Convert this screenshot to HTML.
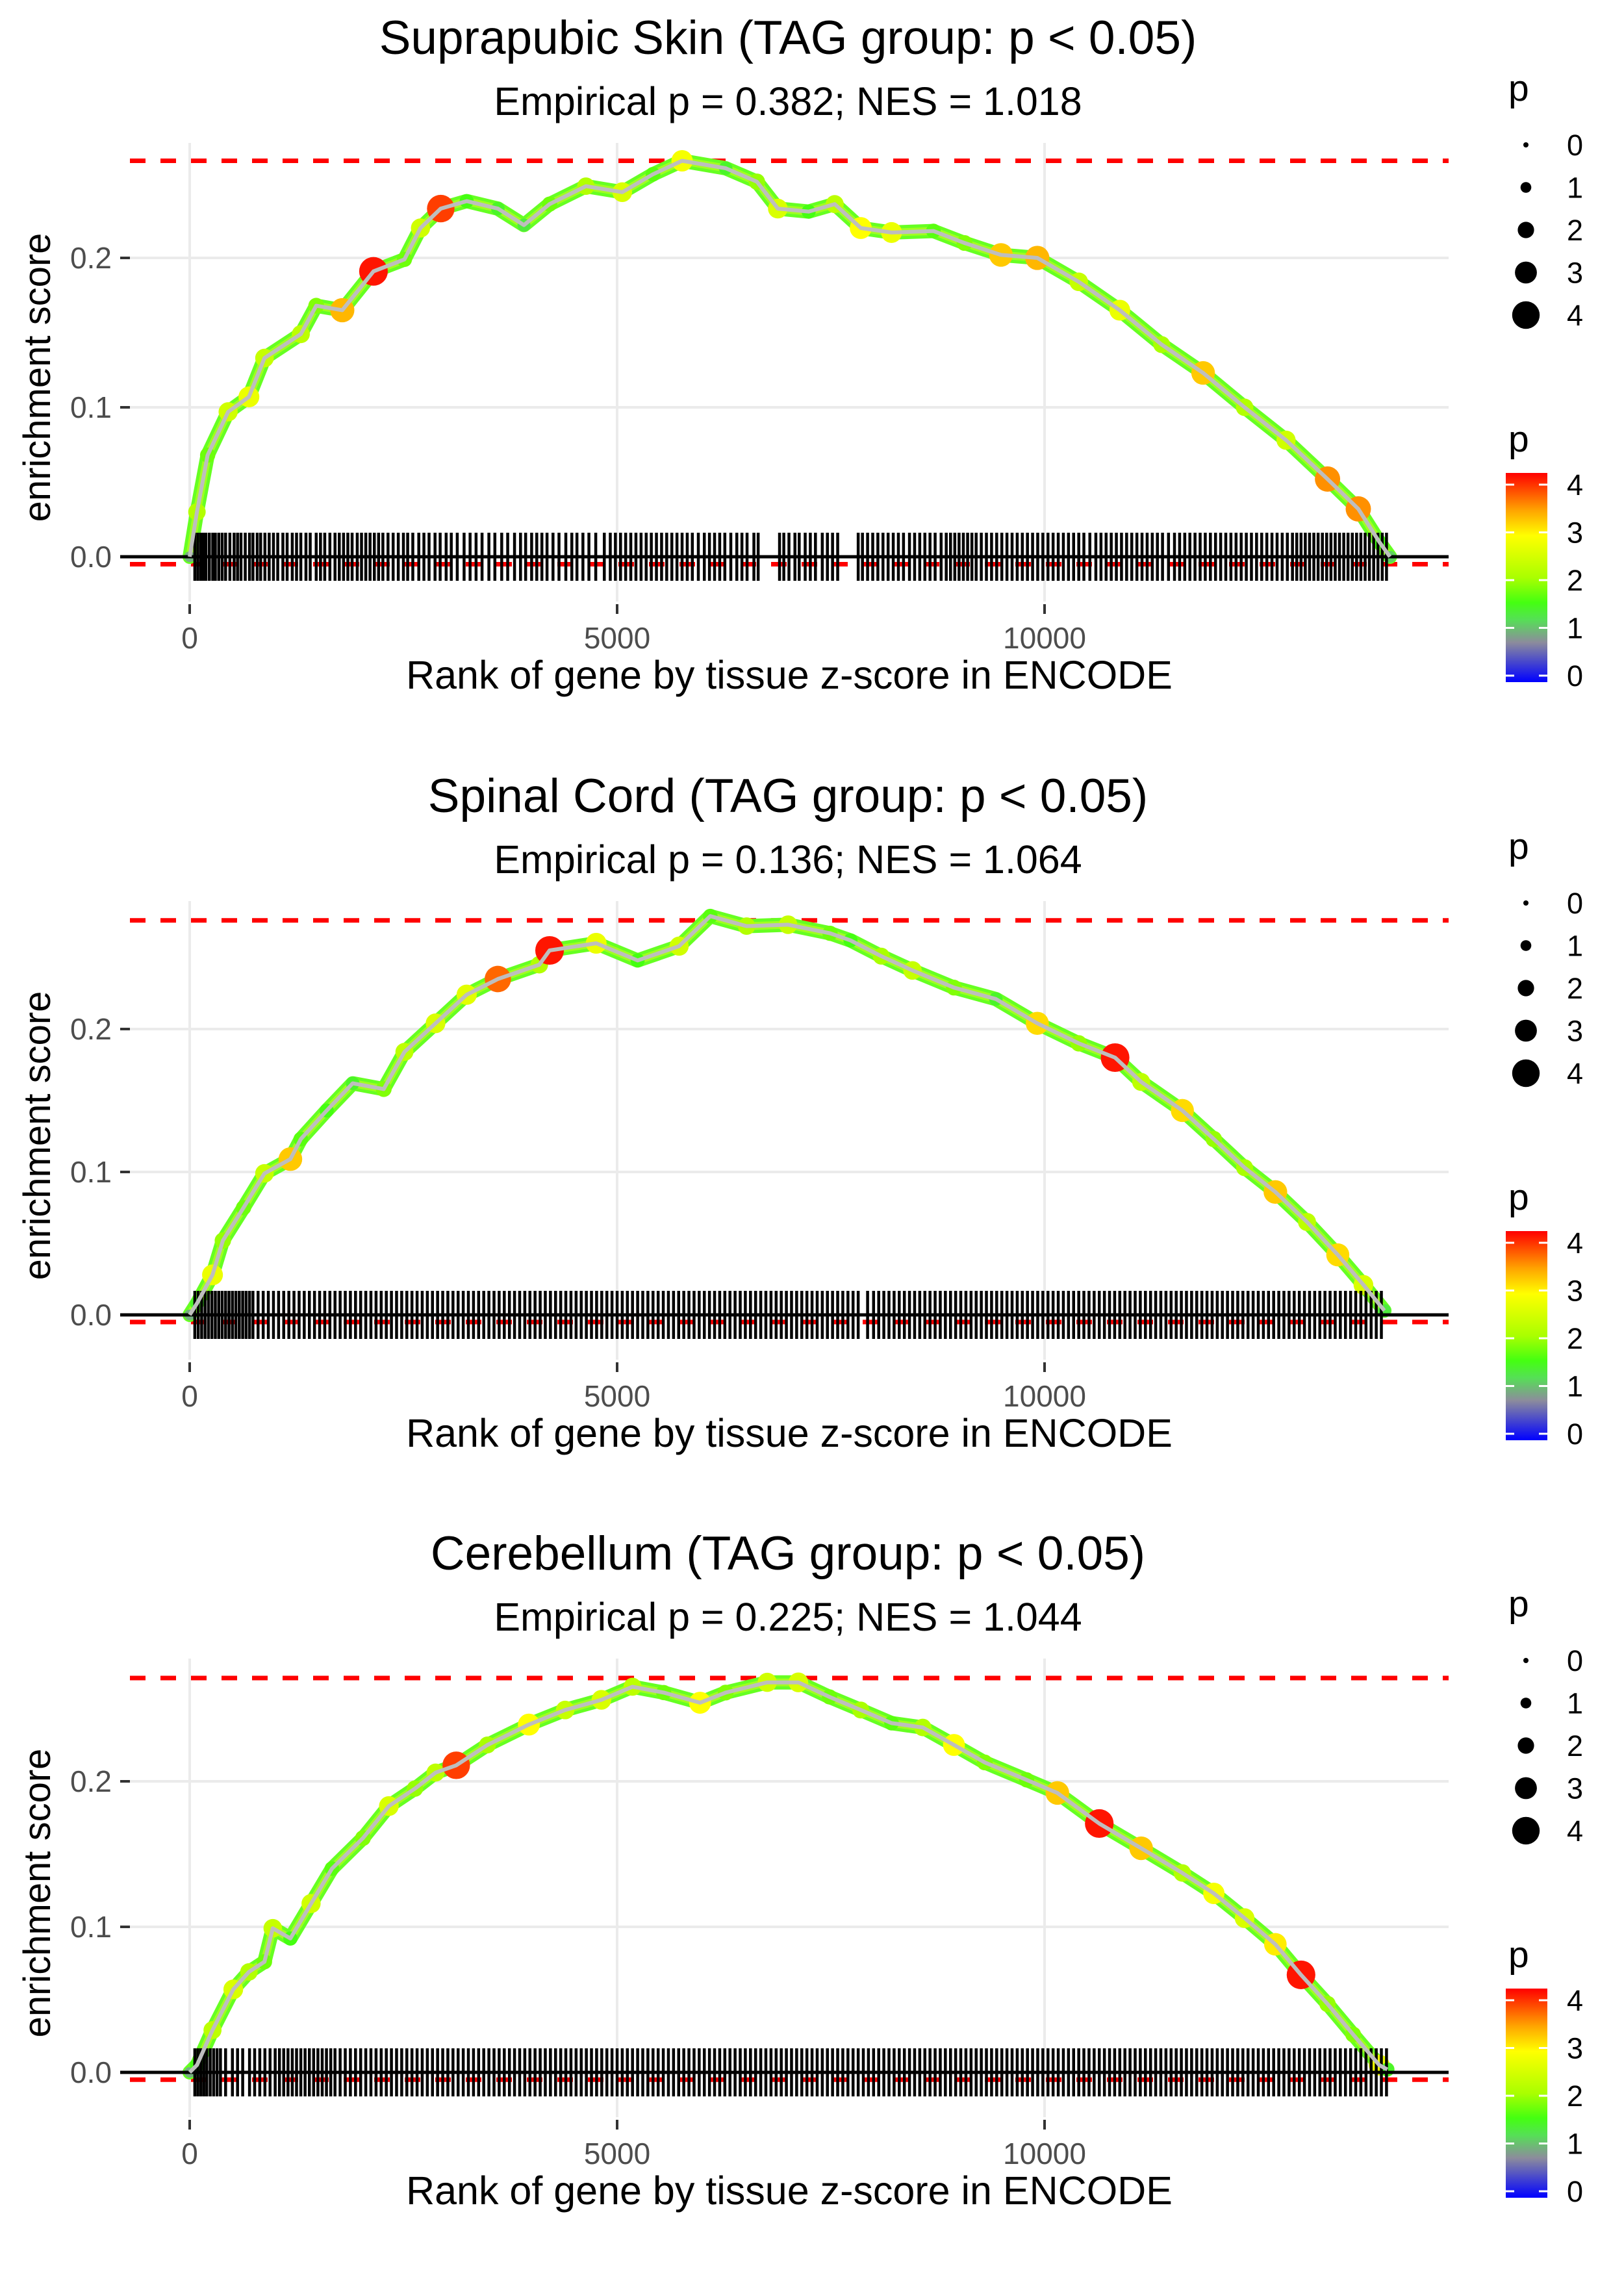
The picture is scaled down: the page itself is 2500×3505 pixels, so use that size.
<!DOCTYPE html>
<html><head><meta charset="utf-8"><style>
html,body{margin:0;padding:0;background:#fff;}
svg text{font-family:"Liberation Sans",Arial,sans-serif;}
</style></head><body>
<svg id="chart" xmlns="http://www.w3.org/2000/svg" width="2500" height="3500" viewBox="0 0 2500 3500">
<defs>
<linearGradient id="cbar" x1="0" y1="1" x2="0" y2="0">
<stop offset="0" stop-color="#0000ff"/><stop offset="0.19" stop-color="#8c8c9c"/><stop offset="0.3" stop-color="#55e055"/><stop offset="0.38" stop-color="#44ff11"/><stop offset="0.5" stop-color="#aaff00"/><stop offset="0.7" stop-color="#ffff00"/><stop offset="0.82" stop-color="#ffa500"/><stop offset="1" stop-color="#ff0000"/>
</linearGradient>
</defs>
</svg>
<script>
// ---- data ----
const titles = ["Suprapubic Skin (TAG group: p < 0.05)","Spinal Cord (TAG group: p < 0.05)","Cerebellum (TAG group: p < 0.05)"];
const subtitles = ["Empirical p = 0.382; NES = 1.018","Empirical p = 0.136; NES = 1.064","Empirical p = 0.225; NES = 1.044"];
const xTicks = [0,5000,10000];
const xTickLabels = ["0","5000","10000"];
const yTicks = [0,0.1,0.2];
const yTickLabels = ["0.0","0.1","0.2"];
const sizeLegendValues = [0,1,2,3,4];
const colorLegendValues = [0,1,2,3,4];
const esMax = [0.265,0.276,0.271];
const esMin = [-0.005,-0.005,-0.005];

const ranks1 = [0,85,210,450,693,875,1300,1480,1785,2150,2512,2700,2937,3240,3605,3910,4210,4635,5060,5420,5760,6270,6635,6880,7240,7545,7850,8210,8700,9063,9490,9915,10400,10880,11370,11855,12340,12825,13310,13670,13915,14040];
const es1    = [0,0.03,0.068,0.097,0.107,0.133,0.149,0.168,0.165,0.191,0.199,0.22,0.233,0.238,0.233,0.222,0.236,0.248,0.244,0.256,0.265,0.26,0.251,0.233,0.231,0.236,0.22,0.217,0.218,0.21,0.202,0.2,0.184,0.165,0.142,0.123,0.1,0.078,0.052,0.032,0.01,0];
const p1     = [1,2.2,1.8,2.5,2.8,2.4,2.3,1.9,3.4,4.2,1.8,2.5,4.0,1.6,1.5,1.4,1.8,2.2,2.6,1.7,2.9,1.5,2.0,2.6,1.6,2.3,3.0,2.8,1.7,1.9,3.3,3.4,2.4,2.8,2.1,3.3,2.2,2.5,3.6,3.6,1.6,1.2];

const ranks2 = [0,85,267,388,630,875,1178,1300,1603,1907,2270,2512,2876,3240,3605,4090,4210,4755,5240,5725,6090,6515,7000,7490,7730,8090,8455,8940,9430,9915,10400,10825,11130,11612,11980,12340,12700,13070,13430,13730,13975];
const es2    = [0,0.008,0.028,0.052,0.075,0.099,0.109,0.123,0.143,0.162,0.158,0.184,0.204,0.224,0.235,0.245,0.255,0.26,0.248,0.258,0.279,0.272,0.273,0.267,0.262,0.251,0.241,0.229,0.221,0.204,0.19,0.18,0.163,0.143,0.123,0.103,0.086,0.065,0.042,0.021,0.003];
const p2     = [1,1.5,2.8,2.0,1.8,2.4,3.3,1.7,1.6,1.5,1.9,2.3,2.6,2.7,3.8,2.2,4.2,2.8,1.6,2.5,1.7,2.2,2.4,1.8,1.6,2.1,2.4,1.9,1.5,3.2,2.0,4.2,2.3,3.2,2.0,2.1,3.3,2.3,3.2,2.6,1.4];

const ranks3 = [0,85,267,510,693,875,972,1178,1420,1664,2027,2330,2635,2876,3118,3483,3968,4392,4816,5180,5545,5970,6270,6756,7120,7485,7850,8210,8575,8940,9300,9790,10150,10640,11130,11612,11980,12340,12700,13000,13310,13610,13915,14010];
const es3    = [0,0.005,0.029,0.057,0.069,0.076,0.099,0.092,0.116,0.14,0.161,0.183,0.195,0.206,0.211,0.225,0.239,0.249,0.256,0.265,0.261,0.254,0.261,0.268,0.268,0.258,0.249,0.24,0.237,0.225,0.213,0.201,0.192,0.171,0.154,0.137,0.123,0.106,0.088,0.067,0.047,0.026,0.005,0.002];
const p3     = [1,1.6,2.3,2.6,2.2,1.8,2.4,1.6,2.5,1.7,1.9,2.6,2.0,2.3,4.0,2.1,3.0,2.4,2.6,2.3,1.8,3.0,1.9,2.5,2.6,1.8,2.1,1.7,2.2,3.0,1.9,1.8,3.3,4.2,3.3,2.2,2.9,2.6,3.1,4.2,2.0,1.9,2.8,1.5];

const rug1 = [60,95,130,160,190,230,270,300,340,380,420,470,520,560,600,650,700,740,790,830,880,930,980,1030,1090,1140,1200,1250,1300,1360,1410,1480,1530,1580,1640,1700,1750,1800,1850,1900,1960,2010,2060,2110,2160,2210,2260,2320,2380,2440,2500,2550,2610,2680,2740,2800,2870,2930,3000,3060,3130,3210,3280,3350,3420,3500,3570,3650,3720,3800,3870,3930,4000,4060,4120,4180,4250,4320,4400,4470,4530,4600,4670,4750,4850,4920,4980,5040,5100,5160,5220,5280,5340,5400,5460,5520,5580,5640,5700,5760,5820,5880,5950,6020,6080,6140,6200,6260,6330,6400,6460,6520,6600,6650,6900,6950,7010,7080,7130,7200,7260,7320,7400,7460,7520,7580,7820,7870,7930,7990,8050,8110,8170,8230,8290,8350,8420,8480,8540,8600,8660,8720,8790,8850,8900,8950,9000,9050,9100,9150,9200,9260,9320,9380,9440,9500,9560,9620,9680,9740,9800,9860,9920,9980,10040,10100,10160,10220,10280,10340,10400,10460,10530,10600,10660,10720,10780,10840,10900,10960,11020,11080,11140,11200,11260,11320,11380,11450,11520,11580,11640,11700,11760,11820,11880,11940,12000,12060,12120,12180,12240,12300,12360,12420,12480,12540,12600,12660,12720,12780,12840,12900,12950,13000,13050,13100,13150,13200,13250,13300,13350,13400,13450,13500,13550,13600,13650,13700,13750,13800,13850,13900,13950,14000];
const rug2 = [60,100,140,180,220,260,300,340,380,420,460,500,540,580,620,660,700,740,800,860,920,980,1040,1100,1160,1220,1280,1340,1400,1460,1520,1580,1640,1700,1760,1820,1880,1940,2000,2060,2120,2180,2240,2300,2360,2420,2480,2540,2600,2660,2720,2780,2840,2900,2960,3020,3080,3140,3200,3260,3320,3380,3440,3500,3560,3620,3680,3740,3800,3860,3920,3980,4040,4100,4160,4220,4280,4340,4400,4460,4520,4580,4640,4700,4760,4820,4880,4940,5000,5060,5120,5180,5240,5300,5360,5420,5480,5540,5600,5660,5720,5780,5840,5900,5960,6020,6080,6140,6200,6260,6320,6380,6440,6500,6560,6620,6680,6740,6800,6860,6920,6980,7040,7100,7160,7220,7280,7340,7400,7460,7520,7580,7640,7700,7760,7820,7930,8000,8060,8120,8180,8240,8300,8360,8420,8480,8540,8600,8660,8720,8780,8840,8900,8960,9020,9080,9140,9200,9260,9320,9380,9440,9500,9560,9620,9680,9740,9800,9860,9920,9980,10040,10100,10160,10220,10280,10340,10400,10460,10520,10580,10640,10700,10760,10820,10880,10940,11000,11060,11120,11180,11240,11300,11360,11420,11480,11540,11600,11660,11720,11780,11840,11900,11960,12020,12080,12140,12200,12260,12320,12380,12440,12500,12560,12620,12680,12740,12800,12860,12920,12980,13040,13100,13160,13220,13280,13340,13400,13460,13520,13580,13640,13700,13760,13820,13880,13940];
const rug3 = [60,95,130,165,200,240,280,320,360,420,500,560,620,700,760,820,880,940,1000,1050,1100,1150,1200,1250,1300,1350,1400,1450,1500,1550,1600,1650,1700,1760,1820,1880,1940,2000,2060,2120,2180,2240,2300,2360,2420,2480,2540,2600,2660,2720,2780,2840,2900,2960,3020,3080,3140,3200,3260,3320,3380,3440,3500,3560,3620,3680,3740,3800,3860,3920,3980,4040,4100,4160,4220,4280,4340,4400,4460,4520,4580,4640,4700,4760,4820,4880,4940,5000,5060,5120,5180,5240,5300,5360,5420,5480,5540,5600,5660,5720,5780,5840,5900,5960,6020,6080,6140,6200,6260,6320,6380,6440,6500,6560,6620,6680,6740,6800,6860,6920,6980,7040,7100,7160,7220,7280,7340,7400,7460,7520,7580,7640,7700,7760,7820,7880,7940,8000,8060,8120,8180,8240,8300,8360,8420,8480,8540,8600,8660,8720,8780,8840,8900,8960,9020,9080,9140,9200,9260,9320,9380,9440,9500,9560,9620,9680,9740,9800,9860,9920,9980,10040,10100,10160,10220,10280,10340,10400,10460,10520,10580,10640,10700,10760,10820,10880,10940,11000,11060,11120,11180,11240,11300,11360,11420,11480,11540,11600,11660,11720,11780,11840,11900,11960,12020,12080,12140,12200,12260,12320,12380,12440,12500,12560,12620,12680,12740,12800,12860,12920,12980,13040,13100,13160,13220,13280,13340,13400,13460,13520,13580,13640,13700,13760,13820,13880,13940,14000];

const panelRanks = [ranks1,ranks2,ranks3];
const panelES = [es1,es2,es3];
const panelP = [p1,p2,p3];
const panelRug = [rug1,rug2,rug3];

// ---- layout ----
const NS = "http://www.w3.org/2000/svg";
const svg = document.getElementById('chart');
const panelOffset = [0,1167,2333];
const zeroY = 857;
const pxPerUnitY = [2300,2200,2240];
const X0 = 292, PX_PER_RANK = 0.1316;
const plotL = 187, plotR = 2230, plotT = 220, plotB = 926;

function xScale(r){return X0 + r*PX_PER_RANK;}
function mk(tag, attrs, parent){const e=document.createElementNS(NS,tag);for(const k in attrs)e.setAttribute(k,attrs[k]);(parent||svg).appendChild(e);return e;}
const cstops=[[0,[0,0,255]],[0.8,[140,140,156]],[1.3,[85,224,85]],[1.6,[68,255,17]],[2.1,[170,255,0]],[3,[255,255,0]],[3.5,[255,165,0]],[4.3,[255,0,0]]];
function pColor(p){
  for(let i=1;i<cstops.length;i++){ if(p<=cstops[i][0]){const a=cstops[i-1],b=cstops[i];const t=(p-a[0])/(b[0]-a[0]);const c=a[1].map((v,j)=>Math.round(v+(b[1][j]-v)*t));return `rgb(${c[0]},${c[1]},${c[2]})`;} }
  return 'rgb(255,0,0)';
}
function pRadius(p){return 4+4.3*p;}

for(let k=0;k<3;k++){
  const off = panelOffset[k];
  const yS = v => off + zeroY - v*pxPerUnitY[k];
  const g = mk('g',{});
  
  

  const t = mk('text',{x:1213,y:off+83,'font-size':73,'text-anchor':'middle',fill:'#000'},g);
  t.textContent = titles[k];
  
  
  const st = mk('text',{x:1213,y:off+177,'font-size':61,'text-anchor':'middle',fill:'#000'},g);
  st.textContent = subtitles[k];
  
  

  yTicks.forEach((v,i)=>{
    const l = mk('line',{x1:plotL,x2:plotR,y1:yS(v),y2:yS(v),stroke:'#ebebeb','stroke-width':4},g);
    
    
    const tk = mk('line',{x1:185,x2:200,y1:yS(v),y2:yS(v),stroke:'#333','stroke-width':4},g);
    
    
    const tl = mk('text',{x:172,y:yS(v)+16,'font-size':46,'text-anchor':'end',fill:'#4d4d4d'},g);
    tl.textContent = yTickLabels[i];
    
    
  });
  xTicks.forEach((v,i)=>{
    const l = mk('line',{x1:xScale(v),x2:xScale(v),y1:off+plotT,y2:off+plotB,stroke:'#ebebeb','stroke-width':4},g);
    
    
    const tk = mk('line',{x1:xScale(v),x2:xScale(v),y1:off+930,y2:off+945,stroke:'#333','stroke-width':4},g);
    
    
    const tl = mk('text',{x:xScale(v),y:off+998,'font-size':46,'text-anchor':'middle',fill:'#4d4d4d'},g);
    tl.textContent = xTickLabels[i];
    
    
  });

  [esMax[k],esMin[k]].forEach(v=>{
    const d = mk('line',{x1:200,x2:plotR,y1:yS(v),y2:yS(v),stroke:'#ff0000','stroke-width':7,'stroke-dasharray':'24 23'},g);
    
    
  });

  const ranks = panelRanks[k], es = panelES[k], ps = panelP[k];
  const pts = ranks.map((r,i)=>xScale(r).toFixed(1)+','+yS(es[i]).toFixed(1)).join(' ');
  const band = mk('polyline',{points:pts,fill:'none',stroke:'#66ff22','stroke-width':22,'stroke-linejoin':'round','stroke-linecap':'round'},g);
  
  
  const band2 = mk('polyline',{points:pts,fill:'none',stroke:'#c8ff20','stroke-width':12,'stroke-linejoin':'round','stroke-opacity':0.6},g);
  
  
  ranks.forEach((r,i)=>{
    const c = mk('circle',{cx:xScale(r),cy:yS(es[i]),r:pRadius(ps[i]),fill:pColor(ps[i])},g);
    
    
  });

  const rugG = mk('g',{stroke:'#000','stroke-width':4.5},g);
  
  
  panelRug[k].forEach(r=>{
    const l = mk('line',{x1:xScale(r),x2:xScale(r),y1:off+zeroY-37,y2:off+zeroY+37},rugG);
    
    
  });

  const z = mk('line',{x1:185,x2:plotR,y1:yS(0),y2:yS(0),stroke:'#000','stroke-width':5},g);
  
  

  const gl = mk('polyline',{points:pts,fill:'none',stroke:'#bebebe','stroke-width':6,'stroke-linejoin':'round'},g);
  
  

  const xt = mk('text',{x:1215,y:off+1060,'font-size':61,'text-anchor':'middle',fill:'#000'},g);
  xt.textContent = 'Rank of gene by tissue z-score in ENCODE';
  
  
  const yt = mk('text',{x:0,y:0,'font-size':58,'text-anchor':'middle',fill:'#000',transform:`translate(77,${off+581}) rotate(-90)`},g);
  yt.textContent = 'enrichment score';
  
  

  const sl = mk('g',{},g);
  
  
  const slt = mk('text',{x:2322,y:off+155,'font-size':57,fill:'#000'},sl);
  slt.textContent='p';
  
  
  sizeLegendValues.forEach((v,i)=>{
    const cy = off+223+i*65.5;
    const c = mk('circle',{cx:2349,cy:cy,r:pRadius(v),fill:'#000'},sl);
    
    
    const tx = mk('text',{x:2412,y:cy+16,'font-size':45,fill:'#000'},sl);
    tx.textContent = String(v);
    
    
  });

  const cl = mk('g',{},g);
  
  
  const clt = mk('text',{x:2322,y:off+695,'font-size':57,fill:'#000'},cl);
  clt.textContent='p';
  
  
  const cbTop=off+728, cbBot=off+1050;
  const bar = mk('rect',{x:2318,y:cbTop,width:64,height:cbBot-cbTop,fill:'url(#cbar)'},cl);
  
  
  colorLegendValues.forEach(v=>{
    const cy = off+1040 - v*73.5;
    const a = mk('line',{x1:2318,x2:2331,y1:cy,y2:cy,stroke:'#fff','stroke-width':3},cl);
    
    
    const b = mk('line',{x1:2369,x2:2382,y1:cy,y2:cy,stroke:'#fff','stroke-width':3},cl);
    
    
    const tx = mk('text',{x:2412,y:cy+16,'font-size':45,fill:'#000'},cl);
    tx.textContent=String(v);
    
    
  });
}
</script>
</body></html>
